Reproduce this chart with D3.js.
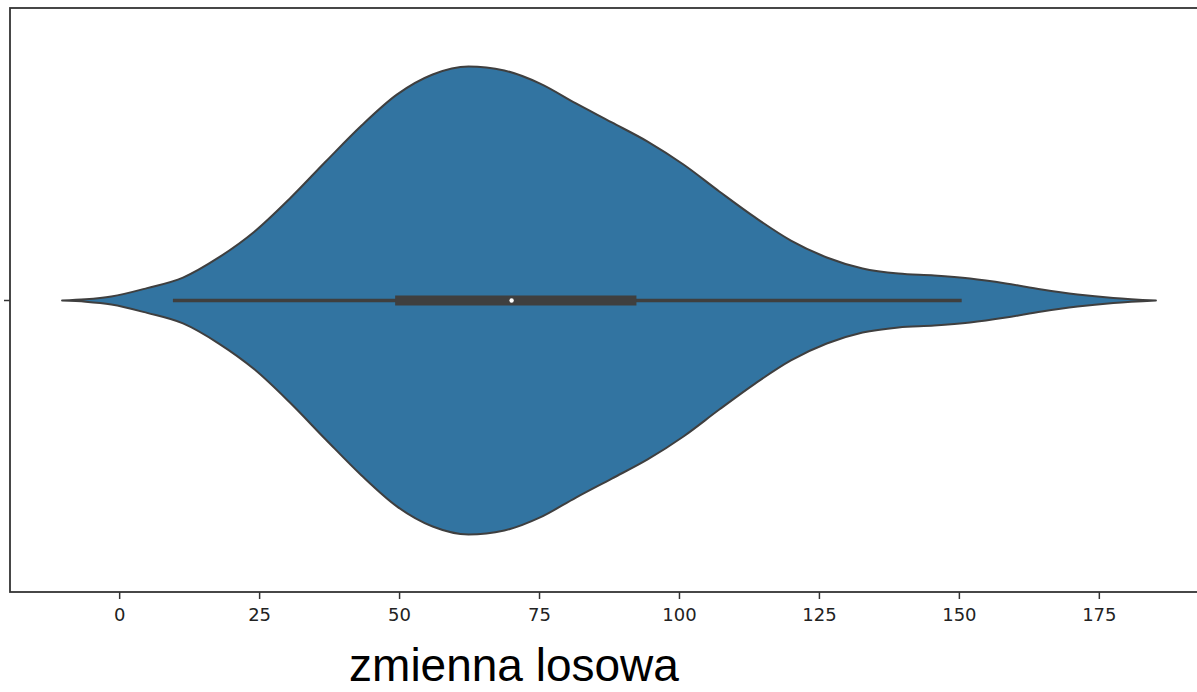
<!DOCTYPE html>
<html>
<head>
<meta charset="utf-8">
<script src="https://cdn.jsdelivr.net/npm/d3@7/dist/d3.min.js"></script>
<style>
  html, body { margin: 0; padding: 0; background: #fff; }
  svg { display: block; }
</style>
</head>
<body>
<script>
// Kernel density of "zmienna losowa": grid of values and relative density (peak = 1)
const gridValues = [-10.2, -6, -1.4, 5, 11.4, 17.8, 24.2, 30.5, 36.9, 43.3, 49.6, 56, 62.4, 68.8, 75.2, 81.6,
                    88, 94.4, 100.8, 107.2, 113.6, 120, 126.4, 132.8, 139.2, 145.6, 152, 158.4, 164.8, 171.2, 177.6, 185.2];
const density = [0, 0.005, 0.017, 0.053, 0.098, 0.184, 0.295, 0.436, 0.594, 0.748, 0.88, 0.966, 1, 0.983, 0.927, 0.842,
                 0.761, 0.679, 0.581, 0.466, 0.355, 0.256, 0.184, 0.137, 0.115, 0.107, 0.094, 0.073, 0.047, 0.026, 0.011, 0];

// Box summary drawn inside the violin
const whiskerLow = 9.6;
const quartile1 = 49.3;
const median = 70.1;
const quartile3 = 92.4;
const whiskerHigh = 150.5;

const tickValues = [0, 25, 50, 75, 100, 125, 150, 175];
const axisLabel = "zmienna losowa";

const W = 1197, H = 692;
const frame = { left: 10, right: 1208, top: 8, bottom: 592 };

const svg = d3.select("body").append("svg")
  .attr("width", W).attr("height", H);

const x = d3.scaleLinear().domain([-19.5, 194.5]).range([frame.left, frame.right]);
const y = d3.scaleBand().domain(["v"]).range([frame.top, frame.bottom]);
const cy = y("v") + y.bandwidth() / 2 + 0.5;
const halfWidth = d3.scaleLinear().domain([0, 1]).range([0, 234]);

const pts = gridValues.map((v, i) => ({ v, d: density[i] }));

const area = d3.area()
  .x(d => x(d.v))
  .y0(d => cy + halfWidth(d.d))
  .y1(d => cy - halfWidth(d.d))
  .curve(d3.curveMonotoneX);

// violin body
svg.append("path")
  .datum(pts)
  .attr("d", area)
  .attr("fill", "#3274a1")
  .attr("stroke", "#3f3f3f")
  .attr("stroke-width", 2)
  .attr("stroke-linejoin", "round");

// whiskers
svg.append("line")
  .attr("x1", x(whiskerLow)).attr("x2", x(whiskerHigh))
  .attr("y1", cy).attr("y2", cy)
  .attr("stroke", "#3f3f3f").attr("stroke-width", 3.5);

// interquartile box
svg.append("rect")
  .attr("x", x(quartile1)).attr("width", x(quartile3) - x(quartile1))
  .attr("y", cy - 5).attr("height", 10)
  .attr("fill", "#3f3f3f");

// median marker
svg.append("circle")
  .attr("cx", x(median)).attr("cy", cy).attr("r", 2.2)
  .attr("fill", "#ffffff");

// frame
svg.append("rect")
  .attr("x", frame.left).attr("y", frame.top)
  .attr("width", frame.right - frame.left).attr("height", frame.bottom - frame.top)
  .attr("fill", "none").attr("stroke", "#333").attr("stroke-width", 1.8);

// x axis
const xAxis = d3.axisBottom(x).tickValues(tickValues).tickSize(7).tickPadding(9).tickFormat(d3.format("d"));
const gx = svg.append("g").attr("transform", `translate(0,${frame.bottom})`).call(xAxis);
gx.select(".domain").remove();
gx.selectAll(".tick line").attr("stroke", "#333").attr("stroke-width", 1.5);
gx.selectAll(".tick text")
  .attr("fill", "#222")
  .style("font-family", "'DejaVu Sans', sans-serif")
  .style("font-size", "18px");

// single categorical tick on the y axis
const yAxis = d3.axisLeft(y).tickSize(6).tickFormat("");
const gy = svg.append("g").attr("transform", `translate(${frame.left},0.5)`).call(yAxis);
gy.select(".domain").remove();
gy.selectAll(".tick line").attr("stroke", "#333").attr("stroke-width", 1.5);

// axis title
svg.append("text")
  .attr("x", 514).attr("y", 681)
  .attr("text-anchor", "middle")
  .style("font-family", "'Liberation Sans', Arial, sans-serif")
  .style("font-size", "46px")
  .attr("fill", "#000")
  .text(axisLabel);
</script>
</body>
</html>
